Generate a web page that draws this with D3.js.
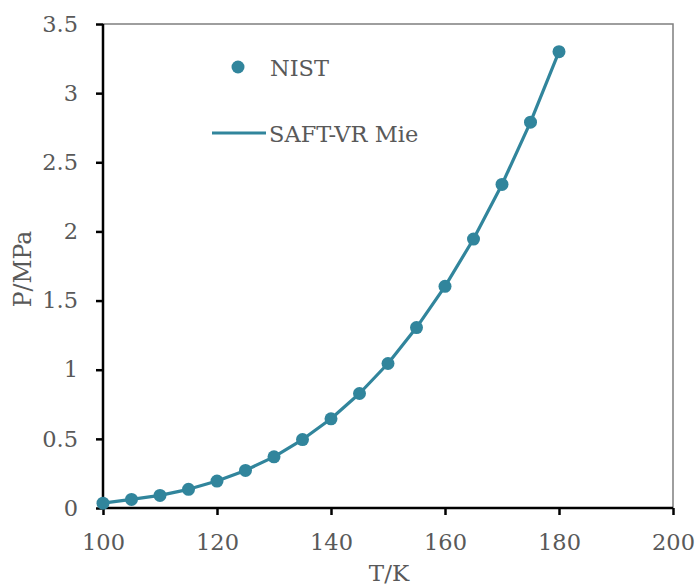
<!DOCTYPE html>
<html>
<head>
<meta charset="utf-8">
<script src="https://cdn.jsdelivr.net/npm/d3@7/dist/d3.min.js"></script>
<style>
  html, body { margin: 0; padding: 0; background: #fff; }
  svg text { font-family: "DejaVu Serif", serif; fill: #595959; }
</style>
</head>
<body>
<svg id="chart" width="697" height="587"></svg>
<script>
// Methane vapour pressure: NIST points vs SAFT-VR Mie curve
const temperatures = [100, 105, 110, 115, 120, 125, 130, 135, 140, 145, 150, 155, 160, 165, 170, 175, 180];
const nistPressure = [0.035, 0.062, 0.091, 0.135, 0.195, 0.272, 0.37, 0.495, 0.645, 0.828, 1.045, 1.305, 1.603, 1.945, 2.34, 2.79, 3.30];
const saftPressure = [0.035, 0.062, 0.091, 0.135, 0.195, 0.272, 0.37, 0.495, 0.645, 0.828, 1.045, 1.305, 1.603, 1.945, 2.34, 2.79, 3.30];
const xTicks = [100, 120, 140, 160, 180, 200];
const yTicks = [0, 0.5, 1, 1.5, 2, 2.5, 3, 3.5];
const seriesNames = ["NIST", "SAFT-VR Mie"];

const color = "#31859C";
const svg = d3.select("#chart");
const plot = { left: 103, right: 673, top: 24, bottom: 508 };
const font = "'DejaVu Serif', serif";

const x = d3.scaleLinear().domain([100, 200]).range([plot.left, plot.right]);
const y = d3.scaleLinear().domain([0, 3.5]).range([plot.bottom, plot.top]);

// frame: grey top and right edges
svg.append("path")
  .attr("d", `M${plot.left},${plot.top}H${plot.right}V${plot.bottom}`)
  .attr("fill", "none").attr("stroke", "#7f7f7f").attr("stroke-width", 1.5);

// axes
const xAxis = svg.append("g")
  .attr("transform", `translate(0,${plot.bottom})`)
  .call(d3.axisBottom(x).tickValues(xTicks).tickSize(7).tickPadding(19).tickFormat(d3.format("d")));
const yAxis = svg.append("g")
  .attr("transform", `translate(${plot.left},0)`)
  .call(d3.axisLeft(y).tickValues(yTicks).tickSize(7).tickPadding(18).tickFormat(d => String(d)));

[xAxis, yAxis].forEach(g => {
  g.attr("font-size", 22.5).attr("font-family", font).attr("fill", "#595959");
  g.select(".domain").attr("stroke", "#000").attr("stroke-width", 2.5);
  g.selectAll(".tick line").attr("stroke", "#000").attr("stroke-width", 2.5);
  g.selectAll(".tick text").attr("fill", "#595959").style("font-size", "22.5px")
    .style("font-family", font);
});
xAxis.select(".domain").attr("d", `M${plot.left},0H${plot.right}`);
yAxis.select(".domain").attr("d", `M0,${plot.bottom}V${plot.top}`);

// axis titles
svg.append("text").attr("x", 389).attr("y", 581)
  .attr("text-anchor", "middle").style("font-size", "23px").text("T/K");
svg.append("text").attr("transform", `translate(31,269) rotate(-90)`)
  .attr("text-anchor", "middle").style("font-size", "23.5px").text("P/MPa");

// SAFT-VR Mie curve
const line = d3.line().x((d, i) => x(temperatures[i])).y(d => y(d));
svg.append("path").datum(saftPressure)
  .attr("d", line).attr("fill", "none").attr("stroke", color).attr("stroke-width", 3.2)
  .attr("stroke-linejoin", "round");

// NIST points
svg.append("g").selectAll("circle").data(nistPressure).join("circle")
  .attr("cx", (d, i) => x(temperatures[i])).attr("cy", d => y(d)).attr("r", 6.5)
  .attr("fill", color);

// legend
const legend = svg.append("g");
legend.append("circle").attr("cx", 238).attr("cy", 67).attr("r", 6.5).attr("fill", color);
legend.append("text").attr("x", 270).attr("y", 76).style("font-size", "22.5px").text(seriesNames[0]);
legend.append("line").attr("x1", 212).attr("x2", 266).attr("y1", 133).attr("y2", 133)
  .attr("stroke", color).attr("stroke-width", 3.2);
legend.append("text").attr("x", 269).attr("y", 142).style("font-size", "22.5px").text(seriesNames[1]);
</script>
</body>
</html>
